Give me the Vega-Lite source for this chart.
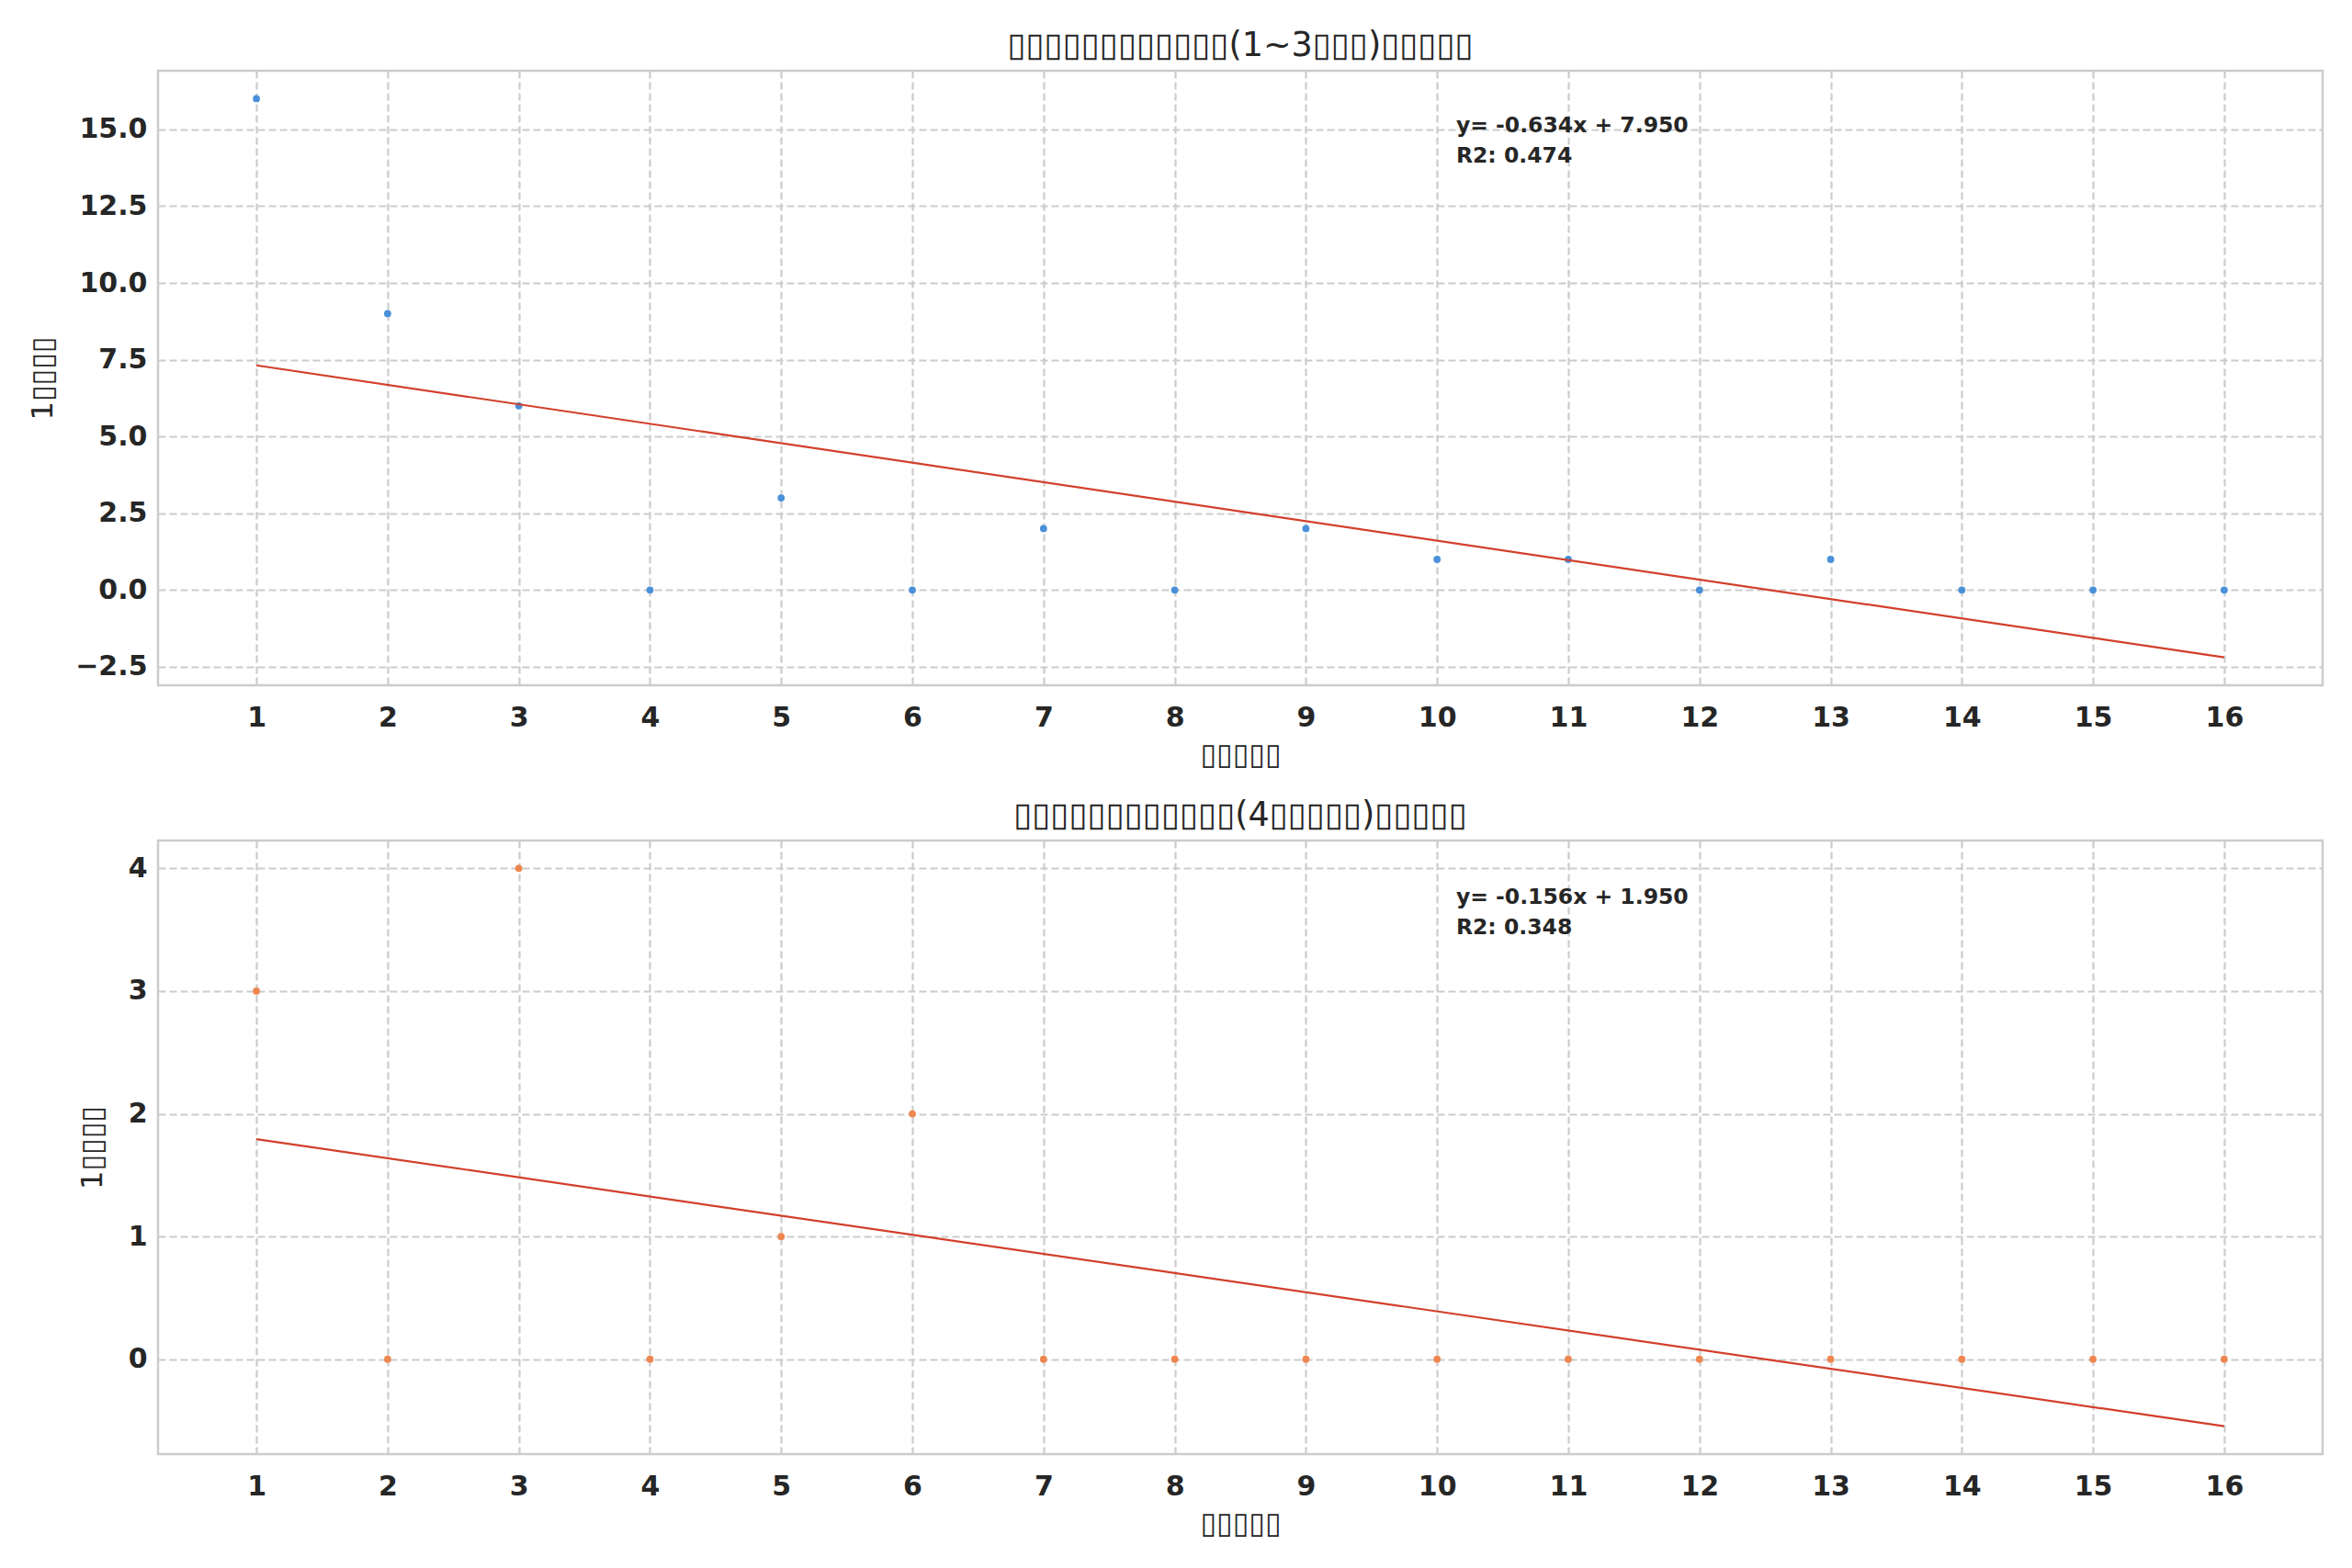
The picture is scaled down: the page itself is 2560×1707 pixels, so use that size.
{
  "$schema": "https://vega.github.io/schema/vega-lite/v6.json",
  "background": "white",
  "padding": {"left": 29, "top": 30, "right": 0, "bottom": 0},
  "spacing": 29,
  "config": {
    "font": "DejaVu Sans",
    "view": {"stroke": "#cccccc", "strokeWidth": 2.5},
    "title": {"font": "DejaVu Sans", "fontSize": 36.5, "fontWeight": "normal", "color": "#262626", "offset": 9},
    "axis": {
      "labelFont": "DejaVu Sans", "labelFontSize": 30, "labelFontWeight": "bold", "labelColor": "#262626",
      "titleFont": "DejaVu Sans", "titleFontSize": 32, "titleFontWeight": "normal", "titleColor": "#262626",
      "gridColor": "#cccccc", "gridWidth": 2.2, "gridDash": [8, 4],
      "domain": false, "ticks": false, "labelPadding": 12, "titlePadding": 18
    },
    "axisX": {"labelPadding": 20, "titlePadding": 10}
  },
  "datasets": {
    "top": [
      {"x": 1, "y": 16}, {"x": 2, "y": 9}, {"x": 3, "y": 6}, {"x": 4, "y": 0},
      {"x": 5, "y": 3}, {"x": 6, "y": 0}, {"x": 7, "y": 2}, {"x": 8, "y": 0},
      {"x": 9, "y": 2}, {"x": 10, "y": 1}, {"x": 11, "y": 1}, {"x": 12, "y": 0},
      {"x": 13, "y": 1}, {"x": 14, "y": 0}, {"x": 15, "y": 0}, {"x": 16, "y": 0}
    ],
    "topfit": [{"x": 1, "y": 7.316}, {"x": 16, "y": -2.194}],
    "bottom": [
      {"x": 1, "y": 3}, {"x": 2, "y": 0}, {"x": 3, "y": 4}, {"x": 4, "y": 0},
      {"x": 5, "y": 1}, {"x": 6, "y": 2}, {"x": 7, "y": 0}, {"x": 8, "y": 0},
      {"x": 9, "y": 0}, {"x": 10, "y": 0}, {"x": 11, "y": 0}, {"x": 12, "y": 0},
      {"x": 13, "y": 0}, {"x": 14, "y": 0}, {"x": 15, "y": 0}, {"x": 16, "y": 0}
    ],
    "bottomfit": [{"x": 1, "y": 1.794}, {"x": 16, "y": -0.546}]
  },
  "vconcat": [
    {
      "title": "▯▯▯▯▯▯▯▯▯▯▯▯(1~3▯▯▯)▯▯▯▯▯",
      "width": 2356,
      "height": 669,
      "layer": [
        {
          "data": {"name": "top"},
          "mark": {"type": "circle", "size": 60, "opacity": 1, "color": "#4a90d9"},
          "encoding": {
            "x": {"field": "x", "type": "quantitative", "title": "▯▯▯▯▯",
              "scale": {"domain": [0.25, 16.75], "nice": false, "zero": false},
              "axis": {"values": [1, 2, 3, 4, 5, 6, 7, 8, 9, 10, 11, 12, 13, 14, 15, 16], "format": "d"}},
            "y": {"field": "y", "type": "quantitative", "title": "1▯▯▯▯",
              "scale": {"domain": [-3.1, 16.91], "nice": false, "zero": false},
              "axis": {"values": [-2.5, 0, 2.5, 5, 7.5, 10, 12.5, 15], "format": ".1f"}}
          }
        },
        {
          "data": {"name": "topfit"},
          "mark": {"type": "line", "color": "#d23f2b", "strokeWidth": 2.2},
          "encoding": {
            "x": {"field": "x", "type": "quantitative"},
            "y": {"field": "y", "type": "quantitative"}
          }
        },
        {
          "data": {"values": [{}]},
          "mark": {"type": "text", "align": "left", "baseline": "top", "fontSize": 23.5, "fontWeight": "bold", "color": "#262626", "lineHeight": 33,
            "text": ["y= -0.634x + 7.950", "R2: 0.474"]},
          "encoding": {
            "x": {"datum": 10.145, "type": "quantitative"},
            "y": {"datum": 15.48, "type": "quantitative"}
          }
        }
      ]
    },
    {
      "title": "▯▯▯▯▯▯▯▯▯▯▯▯(4▯▯▯▯▯)▯▯▯▯▯",
      "width": 2356,
      "height": 668,
      "layer": [
        {
          "data": {"name": "bottom"},
          "mark": {"type": "circle", "size": 60, "opacity": 1, "color": "#ee8650"},
          "encoding": {
            "x": {"field": "x", "type": "quantitative", "title": "▯▯▯▯▯",
              "scale": {"domain": [0.25, 16.75], "nice": false, "zero": false},
              "axis": {"values": [1, 2, 3, 4, 5, 6, 7, 8, 9, 10, 11, 12, 13, 14, 15, 16], "format": "d"}},
            "y": {"field": "y", "type": "quantitative", "title": "1▯▯▯▯",
              "scale": {"domain": [-0.773, 4.227], "nice": false, "zero": false},
              "axis": {"values": [0, 1, 2, 3, 4], "format": "d", "titlePadding": 22}}
          }
        },
        {
          "data": {"name": "bottomfit"},
          "mark": {"type": "line", "color": "#d23f2b", "strokeWidth": 2.2},
          "encoding": {
            "x": {"field": "x", "type": "quantitative"},
            "y": {"field": "y", "type": "quantitative"}
          }
        },
        {
          "data": {"values": [{}]},
          "mark": {"type": "text", "align": "left", "baseline": "top", "fontSize": 23.5, "fontWeight": "bold", "color": "#262626", "lineHeight": 33,
            "text": ["y= -0.156x + 1.950", "R2: 0.348"]},
          "encoding": {
            "x": {"datum": 10.145, "type": "quantitative"},
            "y": {"datum": 3.85, "type": "quantitative"}
          }
        }
      ]
    }
  ]
}
